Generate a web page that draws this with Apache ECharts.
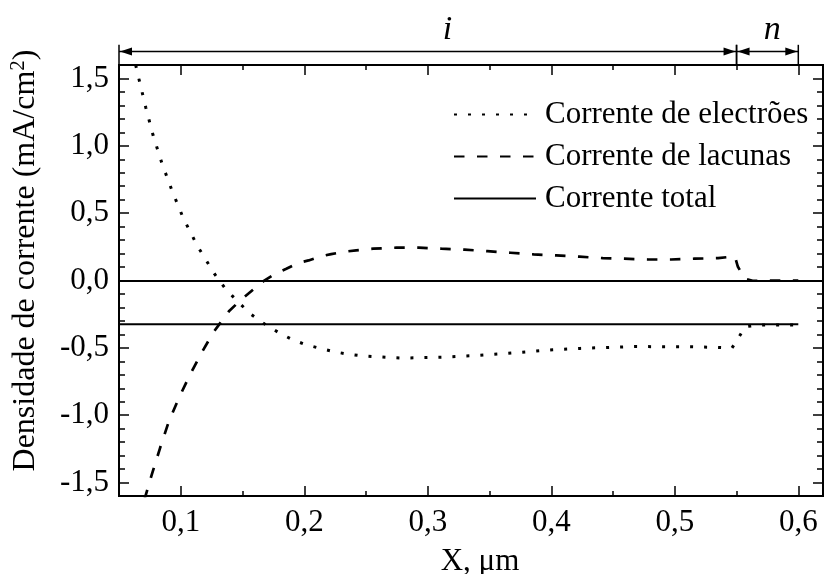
<!DOCTYPE html>
<html>
<head>
<meta charset="utf-8">
<script src="https://cdn.jsdelivr.net/npm/echarts@6/dist/echarts.min.js"></script>
<style>html,body{margin:0;padding:0;background:#fff}#c{width:825px;height:574px}</style>
</head>
<body>
<div id="c"></div>
<script>
// ---- data ----
const electronX = [0.0635,0.0661,0.0717,0.0776,0.0847,0.0930,0.1021,0.1135,0.1275,0.1356,0.1458,0.1571,0.1679,0.1793,0.1900,0.2013,0.2121,0.2234,0.2347,0.2460,0.2679,0.2787,0.2900,0.3123,0.3350,0.3568,0.3790,0.4012,0.4234,0.4457,0.4679,0.4900,0.5125,0.5350,0.5463,0.5510,0.5570,0.5684,0.6000];
const electronY = [1.60,1.498,1.284,1.078,0.872,0.665,0.462,0.256,0.047,-0.054,-0.154,-0.253,-0.323,-0.387,-0.437,-0.477,-0.502,-0.527,-0.546,-0.559,-0.571,-0.576,-0.574,-0.569,-0.559,-0.546,-0.531,-0.514,-0.504,-0.497,-0.490,-0.492,-0.492,-0.497,-0.501,-0.435,-0.343,-0.330,-0.330];
const holeX = [0.0705,0.0766,0.0833,0.0900,0.0980,0.1070,0.1170,0.1264,0.1310,0.1390,0.1480,0.1585,0.1670,0.1765,0.1855,0.1957,0.2035,0.2137,0.2218,0.2326,0.2420,0.2558,0.2747,0.2927,0.3110,0.3299,0.3482,0.3670,0.3857,0.4040,0.4228,0.4417,0.4590,0.4780,0.4970,0.5160,0.5350,0.5487,0.5510,0.5568,0.5630,0.6000];
const holeY = [-1.63,-1.44,-1.242,-1.056,-0.882,-0.708,-0.534,-0.385,-0.328,-0.229,-0.149,-0.069,-0.005,0.050,0.087,0.132,0.149,0.181,0.196,0.214,0.224,0.236,0.244,0.244,0.236,0.229,0.218,0.206,0.194,0.186,0.177,0.166,0.162,0.156,0.156,0.162,0.166,0.179,0.104,0.013,-0.002,0.000];
const totalX = [0.05,0.60];
const totalY = [-0.325,-0.325];
const seriesNames = ['Corrente de electrões','Corrente de lacunas','Corrente total'];

const xMajorTicks = [0.1,0.2,0.3,0.4,0.5,0.6];
const xMinorTicks = [0.15,0.25,0.35,0.45,0.55];
const yMajorTicks = [-1.5,-1.0,-0.5,0.0,0.5,1.0,1.5];
const yMinorTicks = [-1.4,-1.3,-1.2,-1.1,-0.9,-0.8,-0.7,-0.6,-0.4,-0.3,-0.2,-0.1,0.1,0.2,0.3,0.4,0.6,0.7,0.8,0.9,1.1,1.2,1.3,1.4];

const regionNames = ['i','n'];
const regionStart = [0.05,0.55];
const regionEnd = [0.55,0.60];
const regionLabelX = [0.316,0.579];

// ---- chart ----
const FONT = 'Liberation Serif';
const zip = (a,b) => a.map((v,i)=>[v,b[i]]);
const fmt = v => v.toFixed(1).replace('.',',');
const XMIN=0.05, XMAX=0.62, YMIN=-1.6, YMAX=1.6;
const arrowY=1.70, markTopY=1.75, labelY=1.86;

function xAx(pos, major, showLabel){
  return {type:'value', position:pos, min:XMIN, max:XMAX,
    axisLine:{show:true, onZero:false, lineStyle:{color:'#000', width:2}},
    axisTick:{show:true, inside:true, length: major?10:5, customValues: major?xMajorTicks:xMinorTicks, lineStyle:{color:'#000', width:1.5}},
    axisLabel:{show:showLabel, customValues:xMajorTicks, formatter:fmt, color:'#000', fontFamily:FONT, fontSize:31, margin:11},
    splitLine:{show:false},
    name: showLabel ? 'X, μm' : '', nameLocation:'middle', nameGap:50,
    nameTextStyle:{color:'#000', fontFamily:FONT, fontSize:31, padding:[0,0,0,18]}
  };
}
function yAx(pos, major, showLabel){
  return {type:'value', position:pos, min:YMIN, max:YMAX,
    axisLine:{show:true, onZero:false, lineStyle:{color:'#000', width:2}},
    axisTick:{show:true, inside:true, length: major?10:6, customValues: major?yMajorTicks:yMinorTicks, lineStyle:{color:'#000', width:1.5}},
    axisLabel:{show:showLabel, customValues:yMajorTicks, formatter:fmt, color:'#000', fontFamily:FONT, fontSize:31, margin:10},
    splitLine:{show:false},
    name: showLabel ? 'Densidade de corrente (mA/cm{sup|2})' : '', nameLocation:'middle', nameGap:76, nameRotate:90,
    nameTextStyle:{color:'#000', fontFamily:FONT, fontSize:32, padding:[0,0,0,40],
      rich:{sup:{fontSize:21, fontFamily:FONT, color:'#000', verticalAlign:'top', padding:[0,0,14,0]}}}
  };
}

const chart = echarts.init(document.getElementById('c'), null, {renderer:'canvas'});
chart.setOption({
  backgroundColor:'#fff',
  animation:false,
  grid:{left:119, right:2, top:65, bottom:78, containLabel:false, outerBoundsMode:'none'},
  xAxis:[xAx('bottom',true,true), xAx('bottom',false,false), xAx('top',true,false), xAx('top',false,false)],
  yAxis:[yAx('left',true,true), yAx('left',false,false), yAx('right',true,false), yAx('right',false,false)],
  legend:{
    data:seriesNames, orient:'vertical', left:453, top:99, padding:0, itemWidth:82, itemHeight:14, itemGap:11,
    itemStyle:{color:'rgba(0,0,0,0)', borderWidth:0, opacity:0},
    textStyle:{color:'#000', fontFamily:FONT, fontSize:31, lineHeight:31, padding:[0,0,0,4]}
  },
  series:[
    {name:seriesNames[0], type:'line', data:zip(electronX,electronY), showSymbol:false, symbol:'none', clip:true,
     lineStyle:{color:'#000', width:3, type:[3,11], cap:'butt'}, itemStyle:{color:'#000'}},
    {name:seriesNames[1], type:'line', data:zip(holeX,holeY), showSymbol:false, symbol:'none', clip:true,
     lineStyle:{color:'#000', width:2.7, type:[10.5,12.5], cap:'butt'}, itemStyle:{color:'#000'}},
    {name:seriesNames[2], type:'line', data:zip(totalX,totalY), showSymbol:false, symbol:'none', clip:true,
     lineStyle:{color:'#000', width:2.2, type:'solid'}, itemStyle:{color:'#000'},
     markLine:{silent:true, symbol:['none','none'], label:{show:false}, lineStyle:{color:'#000', width:2, type:'solid'}, data:[{yAxis:0}]}},
    {type:'custom', name:'regions', clip:false, silent:true,
     data: regionStart.map((s,i)=>[s, regionEnd[i], regionLabelX[i]]),
     encode:{x:[0,1]},
     renderItem:function(params, api){
       const x0=api.value(0), x1=api.value(1), lx=api.value(2);
       const a=api.coord([x0,arrowY]), b=api.coord([x1,arrowY]);
       const t0=api.coord([x0,markTopY]), b0=api.coord([x0,YMAX]);
       const t1=api.coord([x1,markTopY]), b1=api.coord([x1,YMAX]);
       const t=api.coord([lx,labelY]);
       const L=12, H=4;
       const st={stroke:'#000', lineWidth:1.5, fill:null};
       return {type:'group', children:[
         {type:'line', shape:{x1:a[0],y1:a[1],x2:b[0],y2:b[1]}, style:st},
         {type:'polygon', shape:{points:[[a[0]+1,a[1]],[a[0]+1+L,a[1]-H],[a[0]+1+L,a[1]+H]]}, style:{fill:'#000'}},
         {type:'polygon', shape:{points:[[b[0]-1,b[1]],[b[0]-1-L,b[1]-H],[b[0]-1-L,b[1]+H]]}, style:{fill:'#000'}},
         {type:'line', shape:{x1:t0[0],y1:t0[1],x2:b0[0],y2:b0[1]}, style:st},
         {type:'line', shape:{x1:t1[0],y1:t1[1],x2:b1[0],y2:b1[1]}, style:st},
         {type:'text', x:t[0], y:t[1], style:{text:regionNames[params.dataIndex], fill:'#000', font:"italic 34px 'Liberation Serif'", align:'center', verticalAlign:'middle'}}
       ]};
     }}
  ]
});
</script>
</body>
</html>
